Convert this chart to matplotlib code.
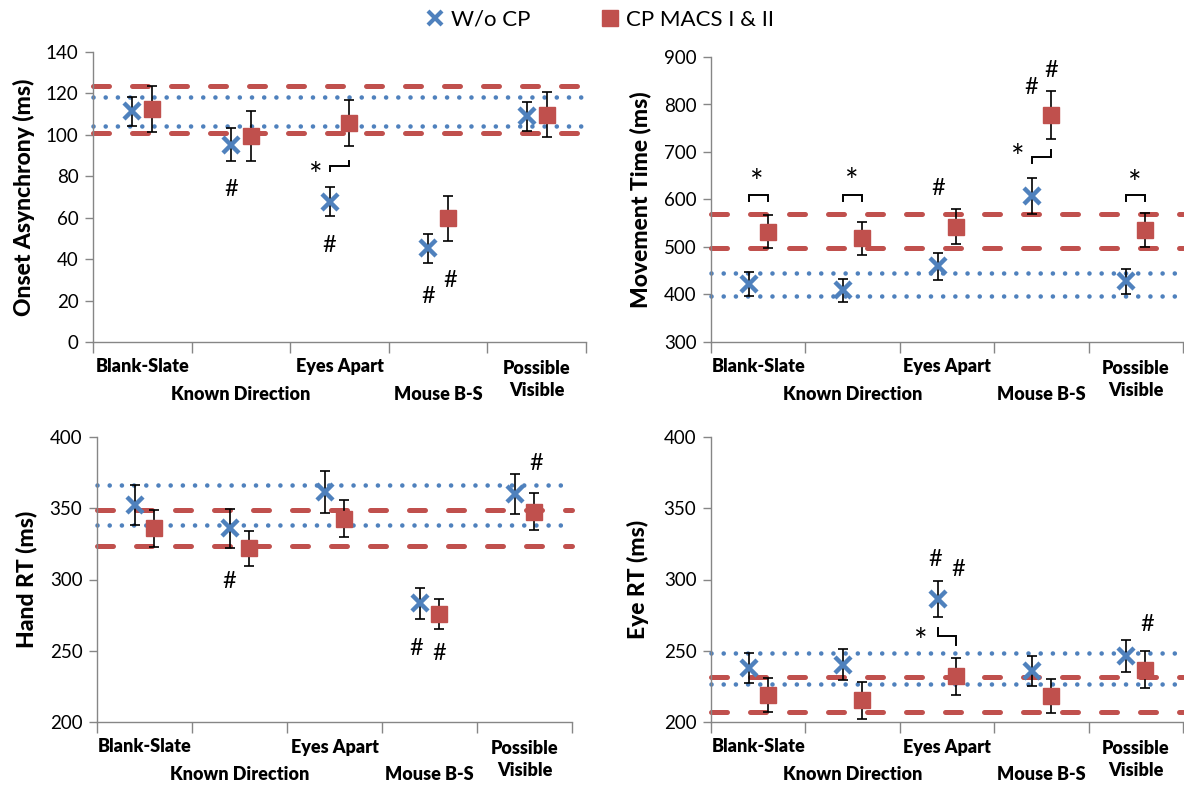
import matplotlib.pyplot as plt
from matplotlib.lines import Line2D
import matplotlib.transforms as mtrans

plt.rcParams['font.family'] = ['Lato', 'DejaVu Sans']

BLUE = '#4F81BD'
RED = '#C0504D'
GREY = '#868686'

categories = ['Blank-Slate', 'Known Direction', 'Eyes Apart', 'Mouse B-S', 'Possible\nVisible']
label_row = [0, 1, 0, 1, 2]  # 0 = upper row, 1 = lower row, 2 = spans both rows

# Onset asynchrony
onset_wo = [111.4, 95.3, 67.8, 45.2, 109.0]
onset_wo_err = [7, 8, 7, 7, 7]
onset_cp = [112.5, 99.6, 105.8, 59.7, 109.8]
onset_cp_err = [11, 12, 11, 11, 11]
onset_cp_band = [101.1, 123.5]
onset_wo_band = [104.3, 118.2]
onset_hash = [(1.4, 73.5), (2.4, 46.8), (3.4, 21.8), (3.62, 29.9)]
onset_star = [(2.26, 81.5)]
onset_bracket = [(2.4, 2.6, 82.4, 84.8, 87.3)]

# Movement time
move_wo = [421.8, 408.5, 459.0, 607.3, 427.4]
move_wo_err = [25, 25, 28, 37, 26]
move_cp = [532.4, 518.4, 543.0, 777.5, 536.0]
move_cp_err = [35, 35, 36, 50, 36]
move_cp_band = [498.8, 568.8]
move_wo_band = [396.0, 446.3]
move_hash = [(2.41, 623), (3.39, 836), (3.6, 871)]
move_star = [(0.49, 641), (1.49, 644), (4.49, 639), (3.25, 693)]
move_bracket = [(0.4, 0.6, 596, 610, 596), (1.4, 1.6, 596, 610, 596),
                (4.4, 4.6, 596, 610, 596), (3.4, 3.6, 676, 690, 704)]

# Hand RT
hand_wo = [352.2, 335.8, 361.5, 283.3, 360.3]
hand_wo_err = [14, 14, 14.6, 11, 14]
hand_cp = [335.8, 321.8, 342.8, 275.9, 347.5]
hand_cp_err = [13, 12.5, 13, 10.5, 13]
hand_cp_band = [323.5, 348.7]
hand_wo_band = [338.0, 366.0]
hand_hash = [(1.39, 298.5), (3.36, 251.8), (3.6, 248.3), (4.62, 381.4)]

# Eye RT
eye_wo = [238.0, 240.3, 286.5, 235.7, 246.2]
eye_wo_err = [10.5, 11, 12.6, 10.3, 11]
eye_cp = [218.9, 215.2, 232.2, 218.2, 236.8]
eye_cp_err = [12, 13, 13, 12, 13]
eye_cp_band = [207.0, 231.5]
eye_wo_band = [227.0, 248.5]
eye_hash = [(2.38, 313.7), (2.62, 307.2), (4.62, 268.3)]
eye_star = [(2.22, 258.3)]
eye_bracket = [(2.4, 2.6, 266, 260.1, 254.3)]

W, H = 1184, 789
fig = plt.figure(figsize=(W / 100, H / 100), dpi=100)


def px_axes(l, r, top, bot):
    return fig.add_axes([l / W, 1 - bot / H, (r - l) / W, (bot - top) / H])


def panel(ax, ylabel, ylab_x, ylim, yticks, wo, wo_err, cp, cp_err,
          cp_band, wo_band, hashes, stars=(), brackets=()):
    n = len(categories)
    xw = [i + 0.4 for i in range(n)]
    xc = [i + 0.6 for i in range(n)]
    ax.set_xlim(0, n)
    ax.set_ylim(*ylim)
    for y in cp_band:
        ax.axhline(y, color=RED, lw=3.6, ls=(0, (3.2, 4.6)),
                   dash_capstyle='round', zorder=2, clip_on=False)
    for y in wo_band:
        ax.axhline(y, color=BLUE, lw=3.3, ls=(0, (0.01, 2.65)),
                   dash_capstyle='round', zorder=2, clip_on=False)
    ax.errorbar(xw, wo, yerr=wo_err, fmt='none', ecolor='black', elinewidth=1.2,
                capsize=3.6, capthick=1.2, zorder=3)
    ax.errorbar(xc, cp, yerr=cp_err, fmt='none', ecolor='black', elinewidth=1.2,
                capsize=3.6, capthick=1.2, zorder=3)
    ax.plot(xw, wo, ls='none', marker='x', ms=12, mew=3.2, color=BLUE, zorder=4)
    ax.plot(xc, cp, ls='none', marker='s', ms=11, color=RED, zorder=4)

    for x, y in hashes:
        ax.text(x, y, '#', fontsize=17, ha='center', va='center', zorder=5)
    for x, y in stars:
        ax.annotate('*', xy=(x, y), xytext=(0, -3), textcoords='offset points',
                    fontsize=23, ha='center', va='center', zorder=5)
    for x0, x1, y0, ym, y1 in brackets:
        ax.plot([x0, x0, x1, x1], [y0, ym, ym, y1], color='black', lw=1.4,
                solid_joinstyle='miter', zorder=5)

    for s in ['top', 'right']:
        ax.spines[s].set_visible(False)
    for s in ['left', 'bottom']:
        ax.spines[s].set_color(GREY)
        ax.spines[s].set_linewidth(1.0)
    ax.set_yticks(yticks)
    ax.tick_params(axis='y', direction='out', length=5.5, width=1, color=GREY,
                   labelsize=13.5, pad=5)
    ax.set_xticks(range(n + 1))
    ax.set_xticklabels([])
    ax.tick_params(axis='x', direction='out', length=8, width=1, color=GREY)

    tr = mtrans.blended_transform_factory(ax.transData, ax.transAxes)
    for i, (lab, row) in enumerate(zip(categories, label_row)):
        off = [-18, -38, -27][row]
        ax.annotate(lab, xy=(i + 0.5, 0), xycoords=tr, xytext=(0, off),
                    textcoords='offset points', ha='center', va='center',
                    fontsize=13, fontweight='heavy', linespacing=1.3,
                    annotation_clip=False)

    bb = ax.get_position()
    fig.text(ylab_x / W, (bb.y0 + bb.y1) / 2, ylabel, rotation=90, ha='center',
             va='center', fontsize=16.5, fontweight='black')


ax1 = px_axes(93, 586, 52, 342)
panel(ax1, 'Onset Asynchrony (ms)', 24, (0, 140), range(0, 141, 20),
      onset_wo, onset_wo_err, onset_cp, onset_cp_err, onset_cp_band, onset_wo_band,
      onset_hash, onset_star, onset_bracket)

ax2 = px_axes(711, 1183, 57, 342)
panel(ax2, 'Movement Time (ms)', 640, (300, 900), range(300, 901, 100),
      move_wo, move_wo_err, move_cp, move_cp_err, move_cp_band, move_wo_band,
      move_hash, move_star, move_bracket)

ax3 = px_axes(97, 572, 437, 722)
panel(ax3, 'Hand RT (ms)', 26, (200, 400), range(200, 401, 50),
      hand_wo, hand_wo_err, hand_cp, hand_cp_err, hand_cp_band, hand_wo_band,
      hand_hash)

ax4 = px_axes(711, 1183, 437, 722)
panel(ax4, 'Eye RT (ms)', 638, (200, 400), range(200, 401, 50),
      eye_wo, eye_wo_err, eye_cp, eye_cp_err, eye_cp_band, eye_wo_band,
      eye_hash, eye_star, eye_bracket)

handles = [Line2D([], [], ls='none', marker='x', ms=10, mew=3.0, color=BLUE),
           Line2D([], [], ls='none', marker='s', ms=11, color=RED)]
fig.legend(handles, ['W/o CP', 'CP MACS I & II'], loc='center',
           bbox_to_anchor=(600 / W, 1 - 20 / H), ncol=2, frameon=False,
           fontsize=16, handlelength=0.8, handletextpad=0.3, columnspacing=3.2)

fig.savefig('out.png', dpi=100)
